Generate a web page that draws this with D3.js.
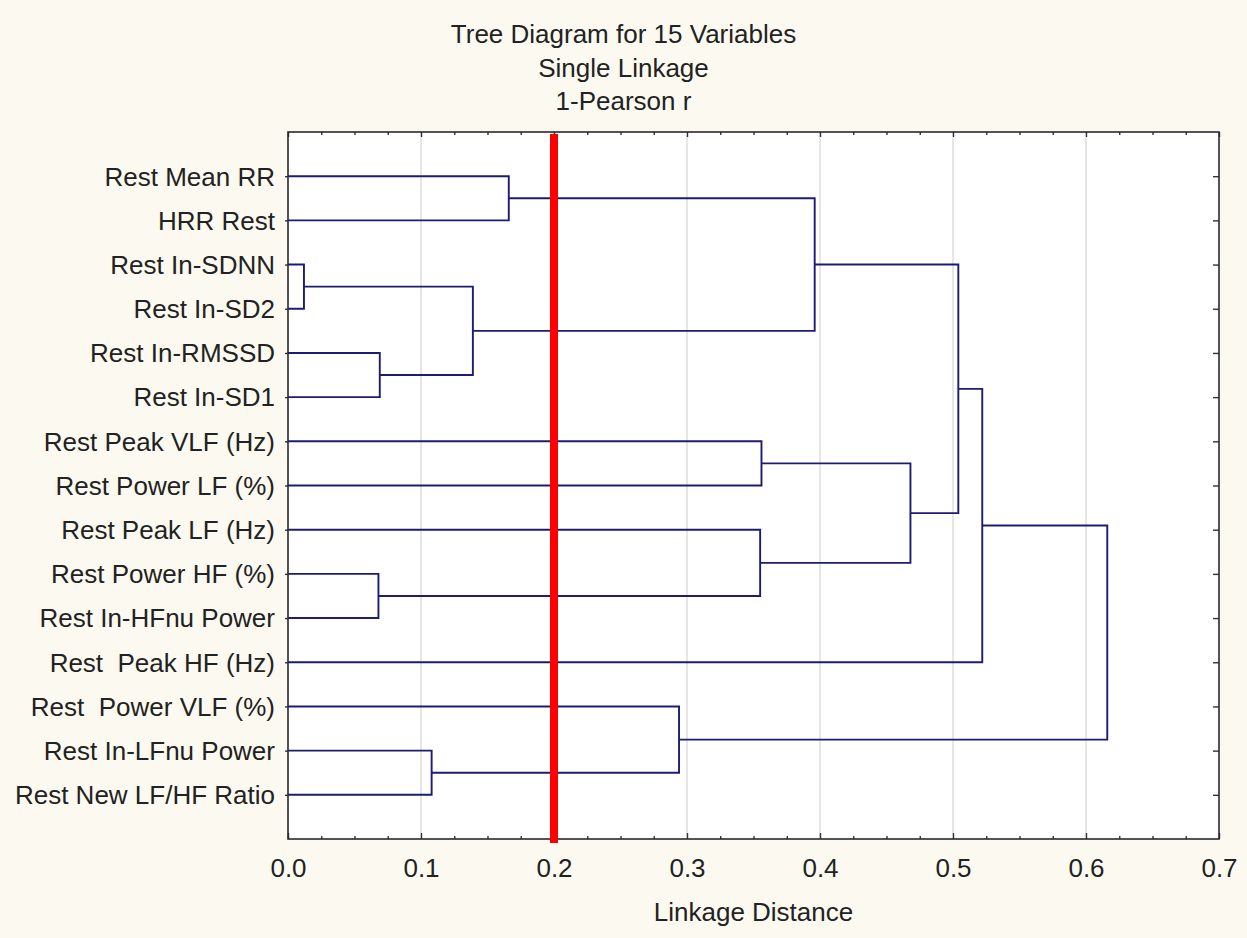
<!DOCTYPE html>
<html>
<head>
<meta charset="utf-8">
<script src="https://cdn.jsdelivr.net/npm/d3@7"></script>
<style>
  body { margin: 0; background: #fcfaf0; }
  svg { display: block; font-family: "Liberation Sans", Arial, sans-serif; }
</style>
</head>
<body>
<div id="chart"></div>
<script>
// variables, top to bottom as they appear in the tree
const leaves = [
  "Rest Mean RR",
  "HRR Rest",
  "Rest In-SDNN",
  "Rest In-SD2",
  "Rest In-RMSSD",
  "Rest In-SD1",
  "Rest Peak VLF (Hz)",
  "Rest Power LF (%)",
  "Rest Peak LF (Hz)",
  "Rest Power HF (%)",
  "Rest In-HFnu Power",
  "Rest  Peak HF (Hz)",
  "Rest  Power VLF (%)",
  "Rest In-LFnu Power",
  "Rest New LF/HF Ratio"
];

// joins: [a, b, linkage distance]; ids 0-14 are leaves, 15+k is join k
const joinA = [0, 2, 4, 16, 15, 6, 9, 8, 20, 19, 24, 13, 12, 25];
const joinB = [1, 3, 5, 17, 18, 7, 10, 21, 22, 23, 11, 14, 26, 27];
const joinDist = [0.166, 0.012, 0.069, 0.139, 0.396, 0.356, 0.068, 0.355, 0.468, 0.504, 0.522, 0.108, 0.294, 0.616];

const xTicks = [0, 0.1, 0.2, 0.3, 0.4, 0.5, 0.6, 0.7];
const gridTicks = [0.1, 0.2, 0.3, 0.4, 0.5, 0.6];
const cutoff = 0.2;

const titleLines = ["Tree Diagram for 15 Variables", "Single Linkage", "1-Pearson r"];
const xTitle = "Linkage Distance";

const W = 1247, H = 938;
const margin = { top: 132, right: 28, bottom: 99, left: 288 };
const innerW = W - margin.left - margin.right;
const innerH = H - margin.top - margin.bottom;
const fontSize = 26;

const svg = d3.select("#chart").append("svg")
  .attr("width", W)
  .attr("height", H);

const x = d3.scaleLinear().domain([0, 0.7]).range([margin.left, margin.left + innerW]);
const y = d3.scaleLinear().domain([0, leaves.length + 1]).range([margin.top, margin.top + innerH]);

// plot background
svg.append("rect")
  .attr("x", x(0)).attr("y", y(0))
  .attr("width", innerW).attr("height", innerH)
  .attr("fill", "#ffffff");

// grid
svg.append("g").selectAll("line")
  .data(gridTicks)
  .enter().append("line")
  .attr("x1", d => x(d)).attr("x2", d => x(d))
  .attr("y1", y(0)).attr("y2", y(leaves.length + 1))
  .attr("stroke", "#d6d6d6")
  .attr("stroke-width", 1.2);

// node positions
const pos = leaves.map((d, i) => ({ h: 0, p: i + 1 }));
joinDist.forEach((h, k) => {
  const a = pos[joinA[k]], b = pos[joinB[k]];
  pos.push({ h: h, p: (a.p + b.p) / 2 });
});

// branches
svg.append("g").selectAll("path")
  .data(joinDist)
  .enter().append("path")
  .attr("d", (h, k) => {
    const a = pos[joinA[k]], b = pos[joinB[k]];
    return `M${x(a.h)},${y(a.p)}H${x(h)}V${y(b.p)}H${x(b.h)}`;
  })
  .attr("fill", "none")
  .attr("stroke", "#1c1c74")
  .attr("stroke-width", 1.9);

// axes (ticks inside the frame)
const minor = d3.range(0, 0.7001, 0.025).filter(v => Math.abs(v * 10 - Math.round(v * 10)) > 1e-6);

const bottom = svg.append("g")
  .attr("transform", `translate(0,${y(leaves.length + 1)})`)
  .call(d3.axisBottom(x).tickValues(xTicks).tickSize(-6).tickPadding(20).tickFormat(d3.format(".1f")));
svg.append("g")
  .attr("transform", `translate(0,${y(leaves.length + 1)})`)
  .call(d3.axisBottom(x).tickValues(minor).tickSize(-3).tickFormat(""));
svg.append("g")
  .attr("transform", `translate(0,${y(0)})`)
  .call(d3.axisTop(x).tickValues(xTicks).tickSize(-5).tickFormat(""));
svg.append("g")
  .attr("transform", `translate(0,${y(0)})`)
  .call(d3.axisTop(x).tickValues(minor).tickSize(-3).tickFormat(""));
svg.append("g")
  .attr("transform", `translate(${x(0.7)},0)`)
  .call(d3.axisRight(y).tickValues(d3.range(1, leaves.length + 1)).tickSize(-6).tickFormat(""));
svg.append("g")
  .attr("transform", `translate(${x(0)},0)`)
  .call(d3.axisLeft(y).tickValues(d3.range(1, leaves.length + 1)).tickSize(3).tickFormat(""));

svg.selectAll(".domain").remove();
svg.selectAll(".tick line").attr("stroke", "#333").attr("stroke-width", 1.4);
bottom.selectAll("text")
  .attr("font-size", fontSize)
  .attr("font-family", "Liberation Sans, Arial, sans-serif")
  .attr("fill", "#222");

// frame
svg.append("rect")
  .attr("x", x(0)).attr("y", y(0))
  .attr("width", innerW).attr("height", innerH)
  .attr("fill", "none")
  .attr("stroke", "#2a2a2a")
  .attr("stroke-width", 1.6);

// cut line
svg.append("line")
  .attr("x1", x(cutoff)).attr("x2", x(cutoff))
  .attr("y1", y(0) + 2).attr("y2", y(leaves.length + 1) + 4)
  .attr("stroke", "#ff0000")
  .attr("stroke-width", 8);

// variable labels
svg.append("g").selectAll("text")
  .data(leaves)
  .enter().append("text")
  .attr("x", margin.left - 13)
  .attr("y", (d, i) => y(i + 1))
  .attr("dy", "0.36em")
  .attr("text-anchor", "end")
  .attr("font-size", fontSize)
  .attr("fill", "#222")
  .style("white-space", "pre")
  .text(d => d);

// titles
svg.append("g").selectAll("text")
  .data(titleLines)
  .enter().append("text")
  .attr("x", W / 2)
  .attr("y", (d, i) => 43 + i * 33.5)
  .attr("text-anchor", "middle")
  .attr("font-size", fontSize)
  .attr("fill", "#222")
  .text(d => d);

svg.append("text")
  .attr("x", (x(0) + x(0.7)) / 2)
  .attr("y", 921)
  .attr("text-anchor", "middle")
  .attr("font-size", fontSize)
  .attr("fill", "#222")
  .text(xTitle);
</script>
</body>
</html>
